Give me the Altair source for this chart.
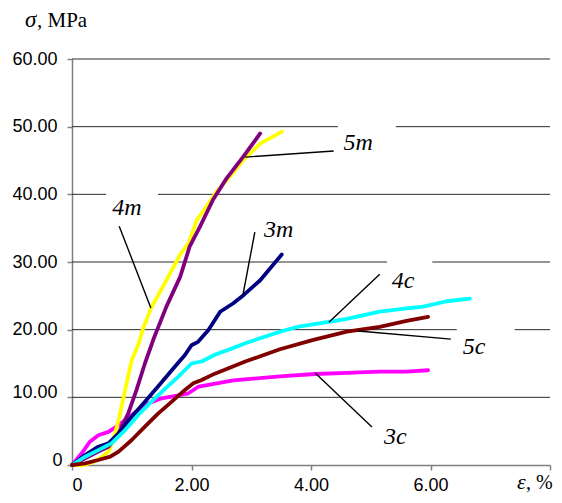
import altair as alt
import pandas as pd

# ---- curve data (strain %, stress MPa) ----
x_3c = [0, 0.16, 0.30, 0.44, 0.61, 0.75, 1.0, 1.22, 1.5, 1.78, 1.95, 2.12, 2.7, 3.48, 4.07, 4.6, 5.15, 5.6, 5.96]
y_3c = [0, 1.7, 3.45, 4.4, 4.9, 5.7, 7.4, 8.9, 9.85, 10.3, 10.6, 11.6, 12.5, 13.1, 13.45, 13.6, 13.8, 13.8, 14.0]

x_4m = [0, 0.2, 0.35, 0.5, 0.61, 0.69, 0.78, 0.89, 1.0, 1.11, 1.19, 1.33, 1.58, 1.81, 1.95, 2.09, 2.25, 2.42, 2.64, 2.87, 3.15, 3.51]
y_4m = [0, 0.0, 0.4, 1.2, 1.97, 3.7, 6.65, 11.1, 15.5, 17.8, 20.2, 23.3, 27.3, 31.1, 32.8, 36.2, 38.2, 40.4, 42.6, 45.1, 47.5, 49.25]

x_5m = [0, 0.22, 0.44, 0.61, 0.78, 0.94, 1.08, 1.22, 1.36, 1.58, 1.81, 1.97, 2.14, 2.36, 2.59, 2.87, 3.15]
y_5m = [0, 0.98, 1.97, 2.7, 4.68, 7.6, 11.1, 15.0, 18.5, 23.4, 27.8, 32.3, 35.2, 39.2, 42.4, 45.6, 49.0]

x_3m = [0, 0.22, 0.44, 0.61, 0.78, 1.0, 1.22, 1.44, 1.67, 1.89, 2.0, 2.11, 2.28, 2.48, 2.7, 2.87, 3.15, 3.51]
y_3m = [0, 1.48, 2.7, 3.2, 4.68, 7.14, 9.36, 11.6, 14.0, 16.25, 17.7, 18.2, 19.9, 22.65, 23.9, 25.1, 27.3, 31.1]

x_4c = [0, 0.22, 0.44, 0.66, 0.89, 1.11, 1.33, 1.56, 1.78, 2.0, 2.17, 2.39, 2.67, 2.9, 3.48, 3.82, 4.32, 4.6, 5.15, 5.6, 5.88, 6.27, 6.66]
y_4c = [0, 1.23, 2.2, 3.2, 5.17, 7.4, 9.36, 11.3, 13.05, 15.0, 15.3, 16.3, 17.2, 18.0, 19.7, 20.5, 21.2, 21.6, 22.66, 23.15, 23.4, 24.2, 24.6]

x_5c = [0, 0.22, 0.44, 0.64, 0.78, 1.0, 1.22, 1.44, 1.67, 1.89, 2.03, 2.17, 2.39, 2.62, 2.9, 3.48, 4.04, 4.6, 5.15, 5.6, 5.96]
y_5c = [0, 0.25, 0.74, 1.23, 1.97, 3.7, 5.67, 7.6, 9.36, 11.1, 12.07, 12.56, 13.5, 14.3, 15.3, 17.1, 18.5, 19.7, 20.4, 21.3, 21.9]

series_names = ["3c", "4m", "5m", "3m", "4c", "5c"]
series_x = [x_3c, x_4m, x_5m, x_3m, x_4c, x_5c]
series_y = [y_3c, y_4m, y_5m, y_3m, y_4c, y_5c]
series_colors = ["#FF00FF", "#FFFF00", "#800080", "#000080", "#00FFFF", "#800000"]

# ---- curve labels and leader lines (data units) ----
lab_text = ["5m", "4m", "3m", "4c", "5c", "3c"]
lab_x = [4.79, 0.92, 3.46, 5.54, 6.73, 5.41]
lab_y = [46.55, 36.94, 33.7, 26.16, 16.4, 3.1]

lead_x1 = [2.90, 0.79, 3.06, 5.15, 6.34, 5.02]
lead_y1 = [45.5, 35.3, 34.4, 28.2, 18.6, 5.6]
lead_x2 = [4.38, 1.32, 2.86, 4.30, 4.79, 4.07]
lead_y2 = [46.4, 23.2, 25.1, 21.1, 19.8, 13.6]

# ---- horizontal gridline segments (gaps where label boxes sat) ----
grid_y = [10, 20, 20, 30, 30, 40, 40, 50, 50, 60]
grid_x1 = [0, 0, 7.41, 0, 6.03, 0, 1.44, 0, 5.42, 0]
grid_x2 = [8, 6.44, 8, 5.27, 8, 0.57, 8, 4.45, 8, 8]

x_ticks = [0, 2, 4, 6, 8]
y_ticks = [0, 10, 20, 30, 40, 50, 60]

xs = alt.Scale(domain=[0, 8], nice=False, zero=True)
ys = alt.Scale(domain=[0, 60], nice=False, zero=True)

xaxis = alt.Axis(
    values=x_ticks, title=None, grid=False,
    labelExpr="datum.value == 8 ? '' : (datum.value == 0 ? '0' : format(datum.value, '.2f'))",
    domainColor="#808080", domainWidth=1.5, tickColor="#808080", tickWidth=1.5, tickSize=5,
    labelFont="Liberation Sans", labelFontSize=18, labelColor="black", labelPadding=6,
    labelOverlap=False,
)
yaxis = alt.Axis(
    values=y_ticks, title=None, grid=False,
    labelExpr="datum.value == 0 ? '0' : format(datum.value, '.2f')",
    domainColor="#808080", domainWidth=1.5, tickColor="#808080", tickWidth=1.5, tickSize=5,
    labelFont="Liberation Sans", labelFontSize=18, labelColor="black",
    labelPadding={"condition": {"test": "datum.value == 0", "value": 5}, "value": 10},
    labelOffset={"condition": {"test": "datum.value <= 10", "value": -5}, "value": 0},
    labelOverlap=False,
)

grid_df = pd.DataFrame({"y": grid_y, "x1": grid_x1, "x2": grid_x2})
grid = alt.Chart(grid_df).mark_rule(color="#2a2a2a", strokeWidth=1).encode(
    x=alt.X("x1:Q", scale=xs, axis=xaxis),
    x2="x2:Q",
    y=alt.Y("y:Q", scale=ys, axis=yaxis),
)

layers = [grid]
for name, xv, yv, col in zip(series_names, series_x, series_y, series_colors):
    d = pd.DataFrame({"x": xv, "y": yv, "i": list(range(len(xv))), "series": name})
    layers.append(
        alt.Chart(d).mark_line(color=col, strokeWidth=3.8, strokeCap="round", strokeJoin="round").encode(
            x=alt.X("x:Q", scale=xs, axis=xaxis),
            y=alt.Y("y:Q", scale=ys, axis=yaxis),
            order="i:Q",
        )
    )

lead_df = pd.DataFrame({"x1": lead_x1, "y1": lead_y1, "x2": lead_x2, "y2": lead_y2})
layers.append(
    alt.Chart(lead_df).mark_rule(color="black", strokeWidth=1.4).encode(
        x=alt.X("x1:Q", scale=xs, axis=xaxis),
        y=alt.Y("y1:Q", scale=ys, axis=yaxis),
        x2="x2:Q", y2="y2:Q",
    )
)

lab_df = pd.DataFrame({"t": lab_text, "x": lab_x, "y": lab_y})
layers.append(
    alt.Chart(lab_df).mark_text(font="Liberation Serif", fontStyle="italic", fontSize=24,
                                align="center", baseline="alphabetic", color="black").encode(
        x=alt.X("x:Q", scale=xs, axis=xaxis),
        y=alt.Y("y:Q", scale=ys, axis=yaxis),
        text="t:N",
    )
)

one = alt.Data(values=[{}])
def txt(s, xp, yp, italic, size):
    kw = dict(text=s, font="Liberation Serif", fontSize=size, align="left",
              baseline="alphabetic", color="black")
    if italic:
        kw["fontStyle"] = "italic"
    return alt.Chart(one).mark_text(**kw).encode(x=alt.value(xp), y=alt.value(yp))

layers += [
    txt("σ", -47, -32, True, 23),
    txt(", MPa", -35, -32, False, 21),
    txt("ε", 445, 430, True, 22),
    txt(", %", 454, 430, False, 20),
]

chart = alt.layer(*layers).properties(
    width=478, height=406,
    autosize=alt.AutoSizeParams(type="none"),
    padding={"left": 64, "top": 51, "right": 4, "bottom": 30},
    background="white",
).configure_view(stroke=None)

chart.save("out.html", embed_options={"renderer": "svg", "actions": False})
